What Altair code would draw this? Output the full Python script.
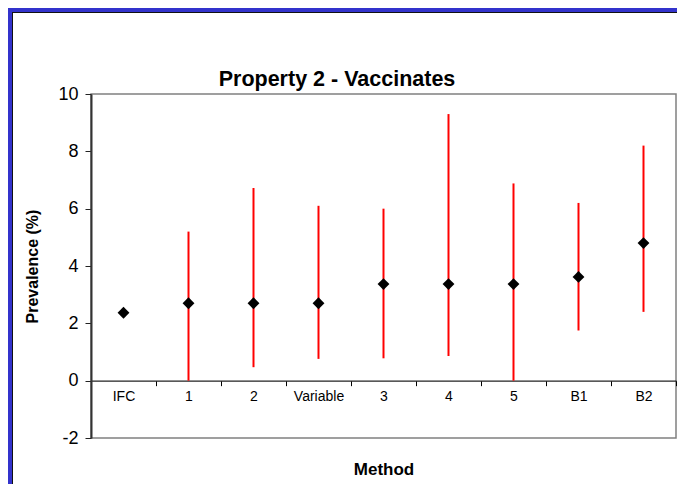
import altair as alt
import pandas as pd

title_text = "Property 2 - Vaccinates"
methods = ["IFC", "1", "2", "Variable", "3", "4", "5", "B1", "B2"]
prevalence = [2.37, 2.70, 2.70, 2.70, 3.37, 3.37, 3.37, 3.62, 4.80]
lower = [None, 0.0, 0.47, 0.76, 0.78, 0.86, 0.0, 1.75, 2.40]
upper = [None, 5.2, 6.72, 6.1, 6.0, 9.3, 6.88, 6.2, 8.2]
y_ticks = [-2, 0, 2, 4, 6, 8, 10]

df = pd.DataFrame({"Method": methods, "Prevalence": prevalence,
                   "Lower": lower, "Upper": upper})

FONT = "Arial, Liberation Sans, sans-serif"
W, H = 585, 344
zero_offset = -H * 2 / 12

x_enc = alt.X("Method:N", sort=methods,
              scale=alt.Scale(type="band", paddingInner=0, paddingOuter=0),
              axis=alt.Axis(title="Method", orient="bottom", offset=zero_offset,
                            labelAngle=0, labelFontSize=14, labelColor="black",
                            labelFont=FONT, labelPadding=4,
                            tickBand="extent", tickSize=5, tickColor="black",
                            domainColor="#222", domainWidth=1.2,
                            titleFont=FONT, titleFontSize=17,
                            titleFontWeight="bold", titleColor="black",
                            titlePadding=58))

y_scale = alt.Scale(domain=[-2, 10], nice=False, zero=False)
y_axis = alt.Axis(title="Prevalence (%)", values=y_ticks, grid=False,
                  labelExpr="'' + datum.value",
                  labelFontSize=18, labelColor="black", labelFont=FONT,
                  labelPadding=7, tickSize=6, tickColor="#222",
                  domainColor="#333", domainWidth=2,
                  titleFont=FONT, titleFontSize=16,
                  titleFontWeight="bold", titleColor="black", titlePadding=17)

base = alt.Chart(df)

bars = base.transform_filter("datum.Lower != null").mark_rule(
    color="#ff0000", strokeWidth=2).encode(
    x=x_enc,
    y=alt.Y("Lower:Q", scale=y_scale, axis=y_axis),
    y2="Upper:Q")

points = base.mark_point(shape="diamond", filled=True, color="black",
                         size=140, opacity=1).encode(
    x=alt.X("Method:N", sort=methods),
    y=alt.Y("Prevalence:Q", scale=y_scale, axis=y_axis))

frame_df = pd.DataFrame({"k": [0]})
fb = alt.Chart(frame_df)
blue = "#3333cc"
top_band = fb.mark_rect(color=blue).encode(
    x=alt.value(-83), x2=alt.value(586), y=alt.value(-86), y2=alt.value(-82))
left_band = fb.mark_rect(color=blue).encode(
    x=alt.value(-83), x2=alt.value(-79), y=alt.value(-86), y2=alt.value(400))
top_line = fb.mark_rect(color="#111").encode(
    x=alt.value(-79), x2=alt.value(586), y=alt.value(-82), y2=alt.value(-81))
left_line = fb.mark_rect(color="#111").encode(
    x=alt.value(-79), x2=alt.value(-78), y=alt.value(-82), y2=alt.value(400))

title = fb.mark_text(font=FONT, fontSize=21.5, fontWeight="bold", color="black",
                     align="center", baseline="alphabetic").encode(
    x=alt.value(246), y=alt.value(-8), text=alt.value(title_text))

chart = alt.layer(bars, points, top_band, left_band, top_line, left_line,
                  title).properties(
    width=W, height=H,
    autosize=alt.AutoSizeParams(type="none"),
    padding={"left": 83, "top": 86, "right": 1, "bottom": 46},
    background="white",
).configure_view(stroke="#808080", strokeWidth=1.5)

chart.save("out.html", embed_options={"renderer": "svg", "actions": False})
